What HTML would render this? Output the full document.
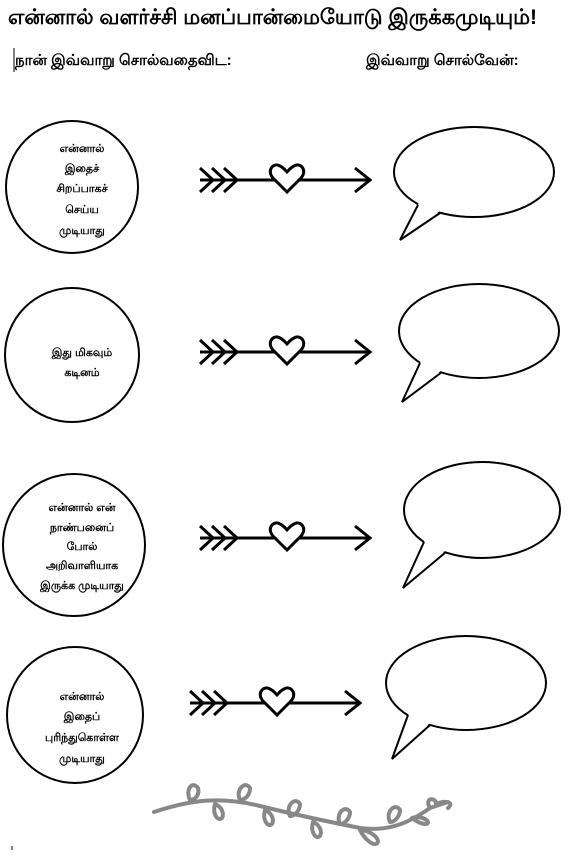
<!DOCTYPE html>
<html><head><meta charset="utf-8"><style>
body{margin:0;background:#fff;width:587px;height:856px;overflow:hidden;font-family:"Liberation Sans",sans-serif}
svg{position:absolute;left:0;top:0}
.t{font-family:"Liberation Sans",sans-serif}
</style></head><body>
<svg width="587" height="856" viewBox="0 0 587 856">
<defs>
<g id="arr" fill="none" stroke="#000" stroke-width="3">
<line x1="0" y1="0" x2="170" y2="0"/>
<path d="M0,-12 L13,0 L0,12 M12,-12 L25,0 L12,12 M24,-12 L37,0 L24,12"/>
<path d="M155,-12 L170,0 L155,12"/>
<path d="M87,12 L73,-2 C66,-10 74,-18 80,-14 C84,-12 86,-9 87,-8 C88,-9 90,-12 94,-14 C100,-18 108,-10 101,-2 Z" fill="#fff"/>
</g>
</defs>
<text x="8" y="24" font-size="21" font-weight="bold" class="t">என்னால் வளர்ச்சி மனப்பான்மையோடு இருக்கமுடியும்!</text>
<line x1="14" y1="48" x2="14" y2="72" stroke="#000" stroke-width="1"/>
<text x="15" y="65" font-size="15" font-weight="bold" class="t">நான் இவ்வாறு சொல்வதைவிட:</text>
<text x="366" y="65" font-size="15" font-weight="bold" class="t">இவ்வாறு சொல்வேன்:</text>
<g fill="#fff" stroke="#000" stroke-width="2">
<circle cx="72" cy="187" r="66"/>
<circle cx="72" cy="355" r="67"/>
<circle cx="74" cy="545" r="71"/>
<circle cx="75" cy="715" r="68"/>
</g>
<g font-size="11" text-anchor="middle" class="t" font-weight="bold">
<text x="82" y="152">என்னால்</text><text x="82" y="172">இதைச்</text><text x="82" y="192">சிறப்பாகச்</text><text x="82" y="213">செய்ய</text><text x="82" y="234">முடியாது</text>
<text x="82" y="356">இது மிகவும்</text><text x="82" y="376">கடினம்</text>
<text x="82" y="511">என்னால் என்</text><text x="82" y="531">நாண்பனைப்</text><text x="82" y="550">போல்</text><text x="82" y="569">அறிவாளியாக</text><text x="82" y="589">இருக்க முடியாது</text>
<text x="82" y="700">என்னால்</text><text x="82" y="720">இதைப்</text><text x="82" y="741">புரிந்துகொள்ள</text><text x="82" y="762">முடியாது</text>
</g>
<use href="#arr" x="200" y="180"/>
<use href="#arr" x="200" y="352"/>
<use href="#arr" x="200" y="538"/>
<use href="#arr" x="190" y="703"/>
<g stroke="#000" stroke-width="2">
<ellipse cx="474" cy="172" rx="80" ry="45" fill="#fff"/>
<polygon points="419,203 400,240 440,211" fill="#fff" stroke="none"/>
<polyline points="418,205 400,240 440,213" fill="none"/>
<ellipse cx="479" cy="331" rx="80" ry="47" fill="#fff"/>
<polygon points="421,361 402,402 442,370" fill="#fff" stroke="none"/>
<polyline points="420,363 402,402 442,372" fill="none"/>
<ellipse cx="482" cy="510" rx="78" ry="48" fill="#fff"/>
<polygon points="425,540 403,588 446,550" fill="#fff" stroke="none"/>
<polyline points="424,542 403,588 446,552" fill="none"/>
<ellipse cx="466" cy="683" rx="80" ry="47" fill="#fff"/>
<polygon points="409,713 392,759 430,723" fill="#fff" stroke="none"/>
<polyline points="408,715 392,759 430,725" fill="none"/>
</g>
<g fill="none" stroke="#888" stroke-width="4" stroke-linecap="round">
<path d="M154,812 C190,800 220,796 260,806 C300,816 330,822 360,828 C390,832 410,822 430,808 L448,802"/>
<path d="M190,800 C185,790 192,780 198,788 C200,795 195,800 190,800"/>
<path d="M240,800 C235,790 245,780 250,788 C250,795 245,800 240,800"/>
<path d="M290,816 C285,806 295,796 300,804 C300,810 295,816 290,816"/>
<path d="M340,824 C335,814 345,804 350,812 C350,818 345,824 340,824"/>
<path d="M390,822 C385,812 395,802 400,810 C400,816 395,822 390,822"/>
<path d="M215,804 C212,814 218,822 222,818 C225,812 220,806 215,804"/>
<path d="M265,810 C262,820 268,828 272,824 C275,818 270,812 265,810"/>
<path d="M313,822 C310,832 316,840 320,836 C323,830 318,824 313,822"/>
<path d="M360,830 C365,840 375,848 378,842 C378,836 368,830 360,830"/>
<path d="M412,818 C420,824 428,826 428,822 C426,818 418,816 412,818"/>
<path d="M430,808 C425,800 432,796 436,802 M436,804 C445,800 455,802 448,808"/>
</g>
<line x1="12" y1="846" x2="12" y2="850" stroke="#000"/>
</svg>
</body></html>
